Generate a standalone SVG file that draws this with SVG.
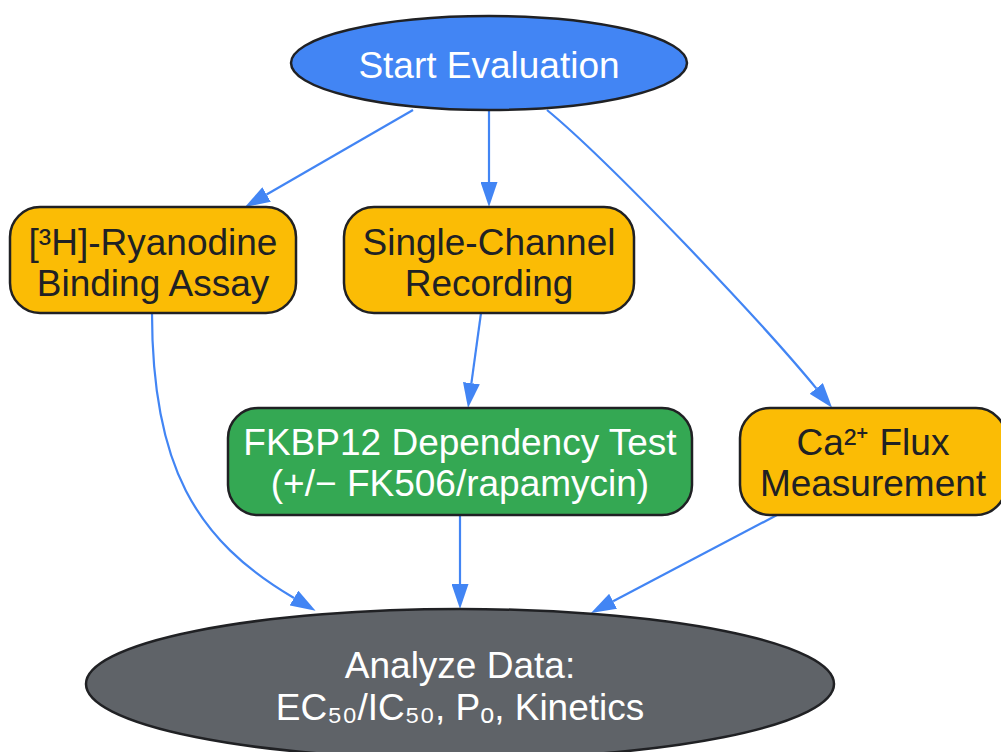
<svg xmlns="http://www.w3.org/2000/svg" width="1001" height="752" viewBox="0 0 1001 752">
<defs>
<style>
.node-stroke{stroke:#202124;stroke-width:2.5}
.edge{fill:none;stroke:#4285F4;stroke-width:2.2}
.lbl{font-family:"Liberation Sans",Arial,sans-serif;font-size:37px;text-anchor:middle}
.light{fill:#ffffff}
.dark{fill:#202124}
</style>
<marker id="arrow" viewBox="0 0 25 17" markerWidth="25" markerHeight="17" refX="0" refY="8.5" orient="auto" markerUnits="userSpaceOnUse">
<path d="M0,0 L25,8.5 L0,17 z" fill="#4285F4"/>
</marker>
</defs>
<rect width="1001" height="752" fill="#ffffff"/>
<g id="connectors">
<path class="edge" d="M413,110 L266.6,194.5" marker-end="url(#arrow)"/>
<path class="edge" d="M489,110 L489,182" marker-end="url(#arrow)"/>
<path class="edge" d="M547,110 C610,162 762,322 816.3,388.4" marker-end="url(#arrow)"/>
<path class="edge" d="M152,313 C152,465 195,540 294,598" marker-end="url(#arrow)"/>
<path class="edge" d="M481,313 L471.4,383.2" marker-end="url(#arrow)"/>
<path class="edge" d="M460,515 L460,584" marker-end="url(#arrow)"/>
<path class="edge" d="M777,515 L613.1,601.3" marker-end="url(#arrow)"/>
</g>
<g id="start">
<ellipse class="node-stroke" cx="489" cy="63" rx="198" ry="47" fill="#4285F4"/>
<text class="lbl light" x="489" y="78">Start Evaluation</text>
</g>
<g id="ryanodine">
<rect class="node-stroke" x="10" y="207" width="286" height="106" rx="30" ry="30" fill="#FBBC05"/>
<text class="lbl dark" x="153" y="255">[³H]-Ryanodine</text>
<text class="lbl dark" x="153" y="296">Binding Assay</text>
</g>
<g id="single-channel">
<rect class="node-stroke" x="344" y="207" width="290" height="106" rx="30" ry="30" fill="#FBBC05"/>
<text class="lbl dark" x="489" y="255">Single-Channel</text>
<text class="lbl dark" x="489" y="296">Recording</text>
</g>
<g id="fkbp12">
<rect class="node-stroke" x="228" y="408" width="464" height="107" rx="30" ry="30" fill="#34A853"/>
<text class="lbl light" x="460" y="455">FKBP12 Dependency Test</text>
<text class="lbl light" x="460" y="496">(+/− FK506/rapamycin)</text>
</g>
<g id="ca-flux">
<rect class="node-stroke" x="740" y="408" width="266" height="107" rx="30" ry="30" fill="#FBBC05"/>
<text class="lbl dark" x="873" y="455">Ca²⁺ Flux</text>
<text class="lbl dark" x="873" y="496">Measurement</text>
</g>
<g id="analyze">
<ellipse class="node-stroke" cx="460" cy="684" rx="374" ry="75" fill="#5F6368"/>
<text class="lbl light" x="460" y="678">Analyze Data:</text>
<text class="lbl light" x="460" y="720">EC₅₀/IC₅₀, Pₒ, Kinetics</text>
</g>
</svg>
